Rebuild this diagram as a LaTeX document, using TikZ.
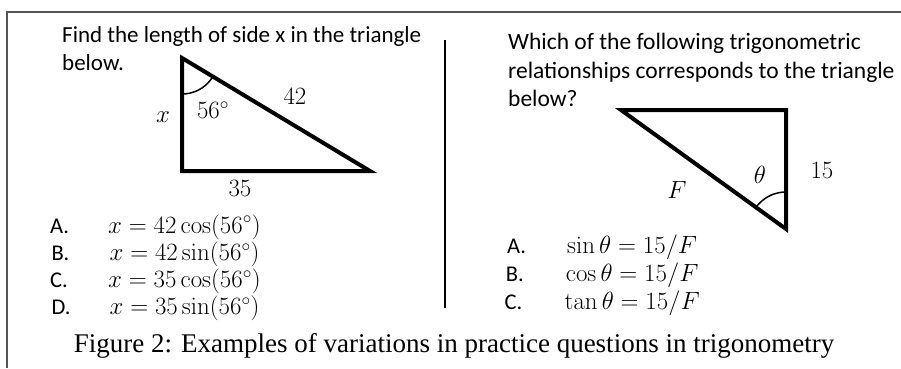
\documentclass[tikz,border=0pt]{standalone}
\usepackage{amsmath}
\usepackage[no-math]{fontspec}
\setmainfont{Carlito}
\newfontfamily\capfont{Liberation Serif}
\usepackage{tikz}
\usetikzlibrary{positioning}

\definecolor{framegray}{RGB}{85,85,85}
\newcommand{\choiceitem}[3]{\makebox[#1][l]{#2}{\fontsize{24}{28}\selectfont$#3$}}

\begin{document}
\begin{tikzpicture}[x=1pt,y=-1pt,node distance=27.3pt,
  qtext/.style={anchor=north west,align=left,inner sep=0pt,font=\fontsize{23}{27.5}\selectfont},
  choice/.style={anchor=base west,inner sep=0pt,font=\fontsize{22.5}{24}\selectfont},
  lbl/.style={inner sep=0pt,font=\fontsize{24}{26}\selectfont},
  side/.style={line width=4pt},
  angmark/.style={line width=1.5pt}]
\useasboundingbox (0,0) rectangle (901,368);
\draw[line width=2pt,framegray] (7,368) -- (7,12) -- (901,12);

% left question
\node[qtext] (qleft) at (62,26.5) {Find the length of side x in the triangle\\below.};
\coordinate (lt) at (182,58);
\coordinate (lb) at (182,171);
\coordinate (lr) at (370,171);
\begin{scope}
  \clip (lt) -- (lb) -- (lr) -- cycle;
  \draw[angmark] (lt) circle[radius=36pt];
\end{scope}
\draw[side] (lt) -- (lb) -- (lr) -- cycle;
\node[lbl] (sidex) at (163,117) {$x$};
\node[lbl] (angle) at (213,110) {$56^\circ$};
\node[lbl] (hyp) at (295,96) {$42$};
\node[lbl] (base) at (240,188) {$35$};

\node[choice] (optA) at (50,233) {\choiceitem{58pt}{A.}{x=42\cos(56^\circ)}};
\node[choice] (optB) [below of=optA] {\choiceitem{58pt}{B.}{x=42\sin(56^\circ)}};
\node[choice] (optC) [below of=optB] {\choiceitem{58pt}{C.}{x=35\cos(56^\circ)}};
\node[choice] (optD) [below of=optC] {\choiceitem{58pt}{D.}{x=35\sin(56^\circ)}};

% divider
\coordinate (divtop) at (445,40);
\coordinate (divbot) at (445,308);
\draw[line width=2.5pt] (divtop) -- (divbot);

% right question
\node[qtext,font=\fontsize{23.5}{28.5}\selectfont] (qright) at (508,33) {Which of the following trigonometric\\relationships corresponds to the triangle\\below?};
\coordinate (rl) at (621,110);
\coordinate (rt) at (786,110);
\coordinate (rb) at (786,229);
\begin{scope}
  \clip (rl) -- (rt) -- (rb) -- cycle;
  \draw[angmark] (rb) circle[radius=37pt];
\end{scope}
\draw[side] (rl) -- (rt) -- (rb) -- cycle;
\node[lbl] (theta) at (760,175) {$\theta$};
\node[lbl] (opp) at (822,170) {$15$};
\node[lbl] (hypF) at (677,190) {$F$};

\node[choice] (relA) at (507,253) {\choiceitem{60pt}{A.}{\sin\theta=15/F}};
\node[choice] (relB) [below of=relA,yshift=-0.7pt] {\choiceitem{60pt}{B.}{\cos\theta=15/F}};
\node[choice] (relC) [below of=relB,yshift=-0.7pt] {\choiceitem{60pt}{C.}{\tan\theta=15/F}};

\node[anchor=base,inner sep=0pt,font=\capfont\fontsize{27}{30}\selectfont] (caption) at (454,352)
  {Figure 2: Examples of variations in practice questions in trigonometry};
\end{tikzpicture}
\end{document}
